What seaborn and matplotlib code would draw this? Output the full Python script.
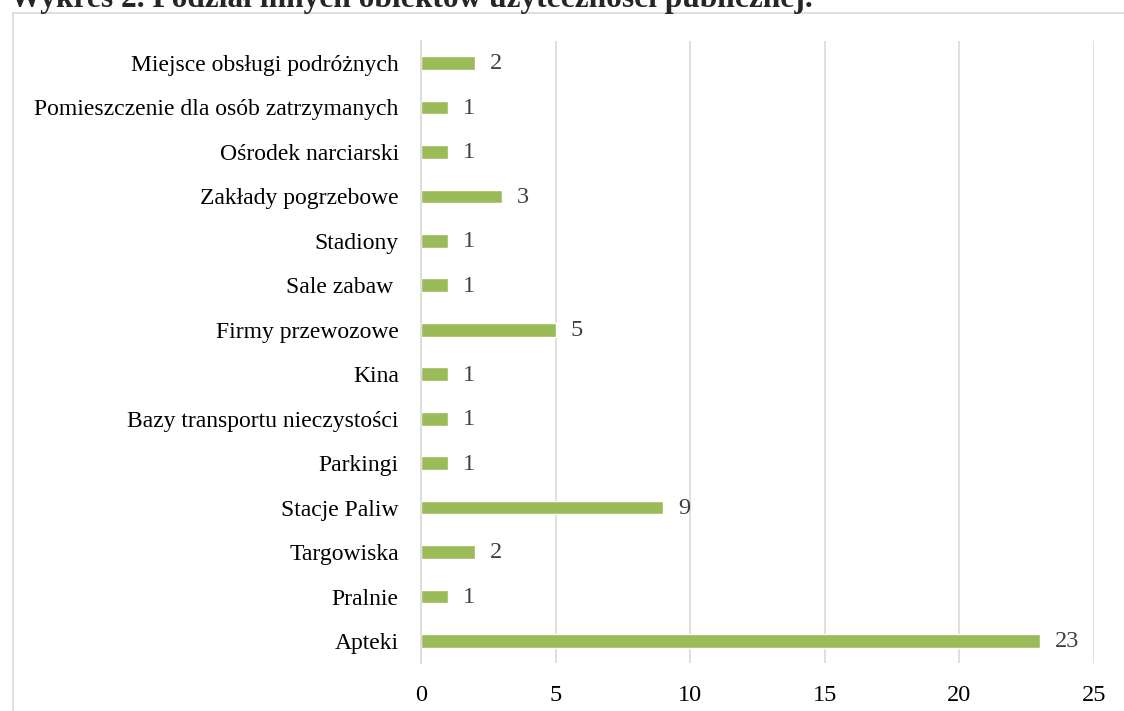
import matplotlib
matplotlib.use("Agg")
import matplotlib.pyplot as plt
import seaborn as sns
import pandas as pd
from matplotlib.patches import Rectangle

# =====================================================
# Data
# =====================================================

categories = [
    "Miejsce obsługi podróżnych",
    "Pomieszczenie dla osób zatrzymanych",
    "Ośrodek narciarski",
    "Zakłady pogrzebowe",
    "Stadiony",
    "Sale zabaw ",
    "Firmy przewozowe",
    "Kina",
    "Bazy transportu nieczystości",
    "Parkingi",
    "Stacje Paliw",
    "Targowiska",
    "Pralnie",
    "Apteki",
]
counts = [2, 1, 1, 3, 1, 1, 5, 1, 1, 1, 9, 2, 1, 23]
x_ticks = [0, 5, 10, 15, 20, 25]

title = "Wykres 2. Podział innych obiektów użyteczności publicznej."

df = pd.DataFrame({"obiekt": categories, "liczba": counts})

# =====================================================
# Plot
# =====================================================

sns.set_style("white")
plt.rcParams["font.family"] = ["Liberation Serif", "DejaVu Serif"]

fig = plt.figure(figsize=(11.24, 7.11), dpi=100)
ax = fig.add_axes([421 / 1124, 1 - 663.2 / 711, (1094 - 421) / 1124, (663.2 - 40.8) / 711])

sns.barplot(
    data=df,
    x="liczba",
    y="obiekt",
    order=categories,
    color="#9BBB59",
    width=0.31,
    saturation=1,
    orient="h",
    ax=ax,
)

for i, v in enumerate(counts):
    ax.text(v + 0.55, i + 0.02, str(v), va="center", ha="left",
            fontsize=17.5, color="#404040")

ax.set_xlim(0, 25)
ax.set_ylim(len(categories) - 0.5, -0.5)
ax.set_xticks(x_ticks)
ax.set_xticklabels([str(t) for t in x_ticks], fontsize=17.5, color="black")
ax.tick_params(axis="y", labelsize=17, colors="black", length=0, pad=16)
ax.tick_params(axis="x", length=0, pad=16)
ax.set_xlabel("")
ax.set_ylabel("")

ax.grid(axis="x", color="#D9D9D9", linewidth=1.2)
ax.set_axisbelow(True)
for s in ["top", "right", "bottom"]:
    ax.spines[s].set_visible(False)
ax.spines["left"].set_color("#D9D9D9")
ax.spines["left"].set_linewidth(1.2)

# chart frame (partly outside the image)
fig.patches.append(Rectangle((12.5 / 1124, -0.1), 1.2, 1.1 - 12.5 / 711,
                             transform=fig.transFigure, fill=False,
                             edgecolor="#D9D9D9", linewidth=1.2))

# title cut off by the top edge
fig.text(10 / 1124, 1 - 7 / 711, title, fontsize=22.6, fontweight="bold",
         ha="left", va="baseline")

fig.savefig("out.png", dpi=100)
plt.close()
